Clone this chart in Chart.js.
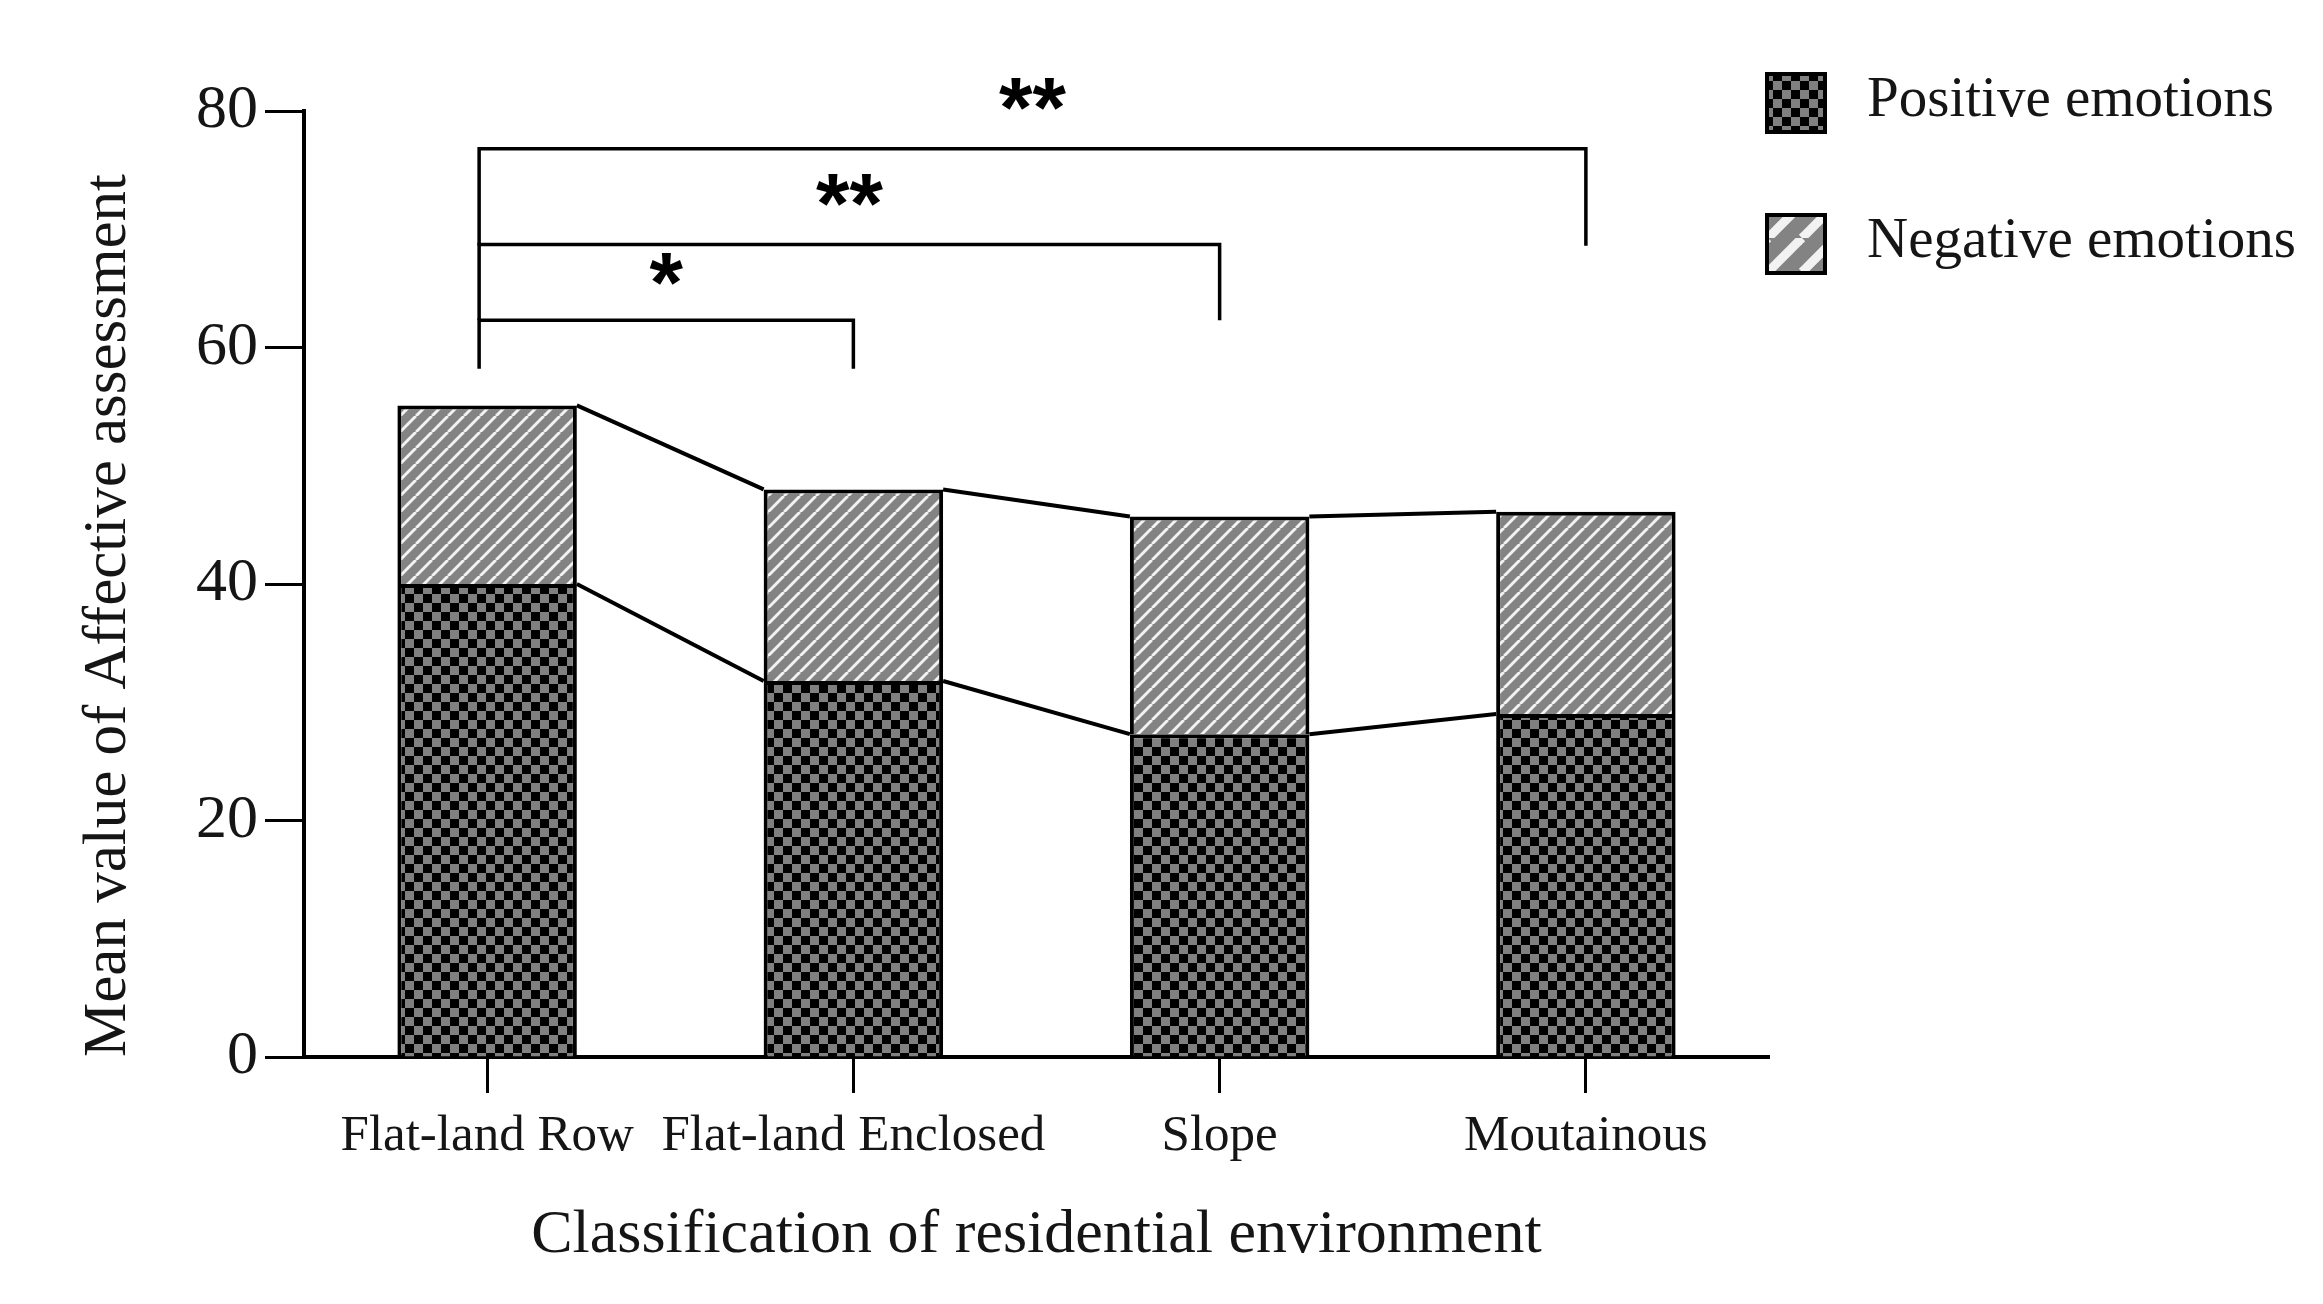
<!DOCTYPE html>
<html>
<head>
<meta charset="utf-8">
<script src="https://cdn.jsdelivr.net/npm/chart.js@4.4.1/dist/chart.umd.min.js"></script>
<style>
html, body { margin: 0; padding: 0; background: #fff; }
#wrap { width: 2323px; height: 1304px; }
</style>
</head>
<body>
<div id="wrap"><canvas id="myChart"></canvas></div>
<script>
// data
const categories = ['Flat-land Row', 'Flat-land Enclosed', 'Slope', 'Moutainous'];
const positive = [40.0, 31.8, 27.3, 29.0];
const negative = [15.1, 16.2, 18.4, 17.1];
const yTicks = [0, 20, 40, 60, 80];

// significance brackets
const sigFrom = [0, 0, 0];
const sigTo = [1, 2, 3];
const sigLine = [62.3, 68.7, 76.8];
const sigLeg = [58.2, 62.3, 68.6];
const sigLabelY = [66.6, 73.3, 81.4];
const sigLabel = ['*', '**', '**'];

const serif = '"Liberation Serif", "DejaVu Serif", serif';
const textColor = '#151515';

const canvas = document.getElementById('myChart');
const ctx = canvas.getContext('2d');

function checker(cell) {
  const c = document.createElement('canvas');
  c.width = c.height = cell * 2;
  const g = c.getContext('2d');
  g.fillStyle = '#000';
  g.fillRect(0, 0, cell * 2, cell * 2);
  g.fillStyle = '#808080';
  g.fillRect(0, 0, cell, cell);
  g.fillRect(cell, cell, cell, cell);
  return ctx.createPattern(c, 'repeat');
}

function stripes(p, w) {
  const c = document.createElement('canvas');
  c.width = c.height = p;
  const g = c.getContext('2d');
  g.fillStyle = '#838383';
  g.fillRect(0, 0, p, p);
  g.strokeStyle = '#f2f2f2';
  g.lineWidth = w;
  for (let k = -1; k <= 1; k++) {
    g.beginPath();
    g.moveTo(k * p, p);
    g.lineTo(k * p + p, 0);
    g.stroke();
  }
  return ctx.createPattern(c, 'repeat');
}

const posFill = checker(9);
const negFill = stripes(16, 3);
const negLegendFill = stripes(34, 9);

// lines joining the tops of neighbouring bars
const joinLines = {
  id: 'joinLines',
  afterDatasetsDraw(chart) {
    const c = chart.ctx;
    c.save();
    c.strokeStyle = '#000';
    c.lineWidth = 4;
    [0, 1].forEach(function(d) {
      const bars = chart.getDatasetMeta(d).data;
      for (let i = 0; i < bars.length - 1; i++) {
        const a = bars[i], b = bars[i + 1];
        c.beginPath();
        c.moveTo(a.x + a.width / 2, a.y);
        c.lineTo(b.x - b.width / 2, b.y);
        c.stroke();
      }
    });
    c.restore();
  }
};

// significance brackets and stars
const brackets = {
  id: 'brackets',
  afterDraw(chart) {
    const c = chart.ctx;
    const xs = chart.scales.x, ys = chart.scales.y;
    c.save();
    c.strokeStyle = '#000';
    c.lineWidth = 3.5;
    c.fillStyle = '#000';
    c.font = 'bold 86px "Liberation Sans", Arial, sans-serif';
    c.textAlign = 'center';
    c.textBaseline = 'alphabetic';
    for (let i = 0; i < sigFrom.length; i++) {
      const x1 = xs.getPixelForValue(sigFrom[i]) - 8;
      const x2 = xs.getPixelForValue(sigTo[i]);
      const yl = ys.getPixelForValue(sigLine[i]);
      const yb = ys.getPixelForValue(sigLeg[i]);
      c.beginPath();
      c.moveTo(x1, yb);
      c.lineTo(x1, yl);
      c.lineTo(x2, yl);
      c.lineTo(x2, yb);
      c.stroke();
      const m = c.measureText(sigLabel[i]);
      const mid = (m.actualBoundingBoxAscent - m.actualBoundingBoxDescent) / 2;
      c.fillText(sigLabel[i], (x1 + x2) / 2, ys.getPixelForValue(sigLabelY[i]) + mid);
    }
    c.restore();
  }
};

// legend at the top right
const sideLegend = {
  id: 'sideLegend',
  afterDraw(chart) {
    const c = chart.ctx;
    const left = chart.chartArea.right - 4;
    const items = [
      { text: chart.data.datasets[0].label, fill: posFill, top: 72 },
      { text: chart.data.datasets[1].label, fill: negLegendFill, top: 213 }
    ];
    c.save();
    items.forEach(function(it) {
      c.fillStyle = it.fill;
      c.fillRect(left, it.top, 62, 62);
      c.strokeStyle = '#000';
      c.lineWidth = 4;
      c.strokeRect(left + 2, it.top + 2, 58, 58);
      c.fillStyle = textColor;
      c.font = '57px ' + serif;
      c.textAlign = 'left';
      c.textBaseline = 'middle';
      c.fillText(it.text, left + 102, it.top + 29);
    });
    c.restore();
  }
};

const data = {
  labels: categories,
  datasets: [{
    label: 'Positive emotions',
    data: positive,
    backgroundColor: posFill,
    borderColor: '#000',
    borderWidth: 4
  }, {
    label: 'Negative emotions',
    data: negative,
    backgroundColor: negFill,
    borderColor: '#000',
    borderWidth: 4
  }]
};

const options = {
  responsive: true,
  maintainAspectRatio: false,
  animation: false,
  layout: { padding: { left: 0, right: 554, top: 111, bottom: 0 } },
  datasets: { bar: { barPercentage: 0.49, categoryPercentage: 1 } },
  plugins: { legend: { display: false }, tooltip: { enabled: false } },
  scales: {
    x: {
      stacked: true,
      offset: true,
      grid: { offset: false, drawOnChartArea: false, tickLength: 36, tickWidth: 3, tickColor: '#000' },
      border: { color: '#000', width: 4 },
      ticks: { color: textColor, padding: 13, font: { family: serif, size: 51 }, maxRotation: 0, autoSkip: false },
      title: { display: true, text: 'Classification of residential environment', color: textColor,
               font: { family: serif, size: 62 }, padding: { top: 0, bottom: 31 } },
      afterFit(scale) { scale.height = 247; }
    },
    y: {
      stacked: true,
      min: yTicks[0],
      max: yTicks[yTicks.length - 1],
      afterBuildTicks(scale) { scale.ticks = yTicks.map(function(v) { return { value: v }; }); },
      grid: { drawOnChartArea: false, tickLength: 39, tickWidth: 3, tickColor: '#000' },
      border: { color: '#000', width: 4 },
      ticks: { color: textColor, padding: 7, font: { family: serif, size: 62 } },
      title: { display: true, align: 'start', text: 'Mean value of Affective assessment', color: textColor,
               font: { family: serif, size: 61 }, padding: { top: 72, bottom: 0 } },
      afterFit(scale) { scale.width = 304; }
    }
  }
};

const myChart = new Chart(ctx, {
  type: 'bar',
  data: data,
  options: options,
  plugins: [joinLines, brackets, sideLegend]
});
</script>
</body>
</html>
